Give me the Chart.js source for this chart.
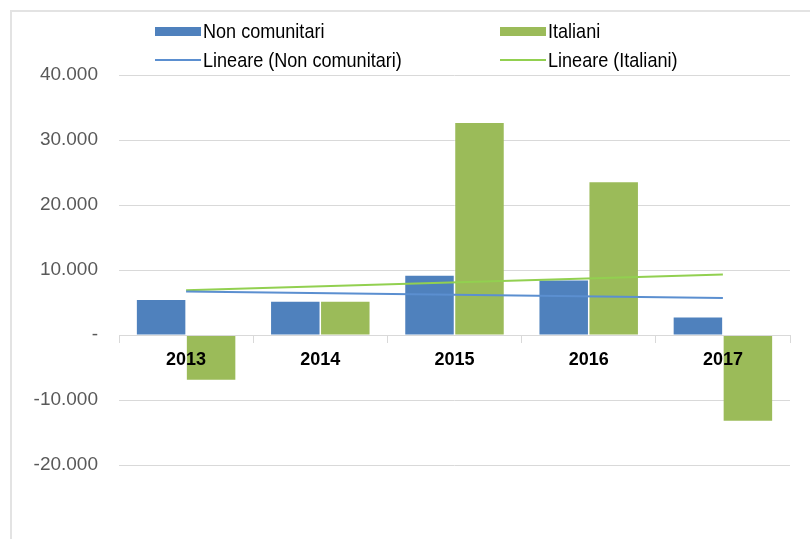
<!DOCTYPE html>
<html>
<head>
<meta charset="utf-8">
<script src="https://cdn.jsdelivr.net/npm/chart.js@4.4.1/dist/chart.umd.min.js"></script>
<style>
  html, body { margin: 0; padding: 0; background: #fff; }
  #wrap { position: relative; width: 810px; height: 539px; }
  #frame { position: absolute; left: 10px; top: 10px; right: -2px; bottom: -2px;
           border-left: 2px solid #e3e3e3; border-top: 2px solid #e3e3e3; }
  canvas { position: absolute; left: 0; top: 0; }
</style>
</head>
<body>
<div id="wrap">
  <div id="frame"></div>
  <canvas id="chart" width="810" height="539"></canvas>
</div>
<script>
const FONT = "'Liberation Sans', Arial, sans-serif";

// data
const years = ['2013', '2014', '2015', '2016', '2017'];
const nonComunitari = [5400, 5100, 9100, 8400, 2700];
const italiani = [-6900, 5100, 32600, 23500, -13200];
// trend lines, first and last year only
const trendNonComunitari = [6700, null, null, null, 5700];
const trendItaliani = [6900, null, null, null, 9300];

const blue = '#4F81BD';
const green = '#9BBB59';

function fmt(v) {
    if (v === 0) return '-';
    const s = Math.abs(v).toString().replace(/\B(?=(\d{3})+(?!\d))/g, '.');
    return (v < 0 ? '-' : '') + s;
}

// legend laid out in two columns like the original, text a bit condensed
const legendPlugin = {
    id: 'twoColLegend',
    afterDraw(chart) {
        const ctx = chart.ctx;
        const cols = [155, 500];
        const rows = [31, 60];
        chart.data.datasets.forEach((ds, i) => {
            const x = cols[i % 2];
            const y = rows[Math.floor(i / 2)];
            ctx.save();
            if (ds.type === 'line') {
                ctx.strokeStyle = ds.borderColor;
                ctx.lineWidth = 2;
                ctx.beginPath();
                ctx.moveTo(x, y);
                ctx.lineTo(x + 46, y);
                ctx.stroke();
            } else {
                ctx.fillStyle = ds.backgroundColor;
                ctx.fillRect(x, y - 4, 46, 9);
            }
            ctx.translate(x + 48, y);
            ctx.scale(0.86, 1);
            ctx.font = '21px ' + FONT;
            ctx.textBaseline = 'middle';
            ctx.fillStyle = '#000';
            ctx.fillText(ds.label, 0, 1);
            ctx.restore();
        });
    }
};

const ctx = document.getElementById('chart').getContext('2d');
new Chart(ctx, {
    type: 'bar',
    data: {
        labels: years,
        datasets: [
            { label: 'Non comunitari', data: nonComunitari, backgroundColor: blue,
              categoryPercentage: 0.745, barPercentage: 0.97, order: 1 },
            { label: 'Italiani', data: italiani, backgroundColor: green,
              categoryPercentage: 0.745, barPercentage: 0.97, order: 1 },
            { type: 'line', label: 'Lineare (Non comunitari)', data: trendNonComunitari,
              borderColor: '#5B8FD0', borderWidth: 2, pointRadius: 0, spanGaps: true, order: 0 },
            { type: 'line', label: 'Lineare (Italiani)', data: trendItaliani,
              borderColor: '#92D050', borderWidth: 2, pointRadius: 0, spanGaps: true, order: 0 }
        ]
    },
    options: {
        responsive: false,
        animation: false,
        layout: { padding: { left: 0, right: 20, top: 75, bottom: 74 } },
        plugins: {
            legend: { display: false },
            tooltip: { enabled: false }
        },
        scales: {
            x: {
                position: { y: 0 },
                grid: { display: true, drawOnChartArea: false, drawTicks: true, tickLength: 7,
                        color: '#d9d9d9', offset: true, z: 1 },
                border: { display: true, color: '#d9d9d9', width: 1, z: 1 },
                ticks: { color: '#000', padding: 7, maxRotation: 0, z: 2,
                         font: { family: FONT, size: 18, weight: 'bold' } }
            },
            y: {
                min: -20000,
                max: 40000,
                afterFit(scale) { scale.width = 119; },
                grid: { color: '#d9d9d9', lineWidth: 1, drawTicks: false },
                border: { display: false },
                ticks: { stepSize: 10000, padding: 21, color: '#595959',
                         font: { family: FONT, size: 19 },
                         callback: (v) => fmt(v) }
            }
        }
    },
    plugins: [legendPlugin]
});
</script>
</body>
</html>
